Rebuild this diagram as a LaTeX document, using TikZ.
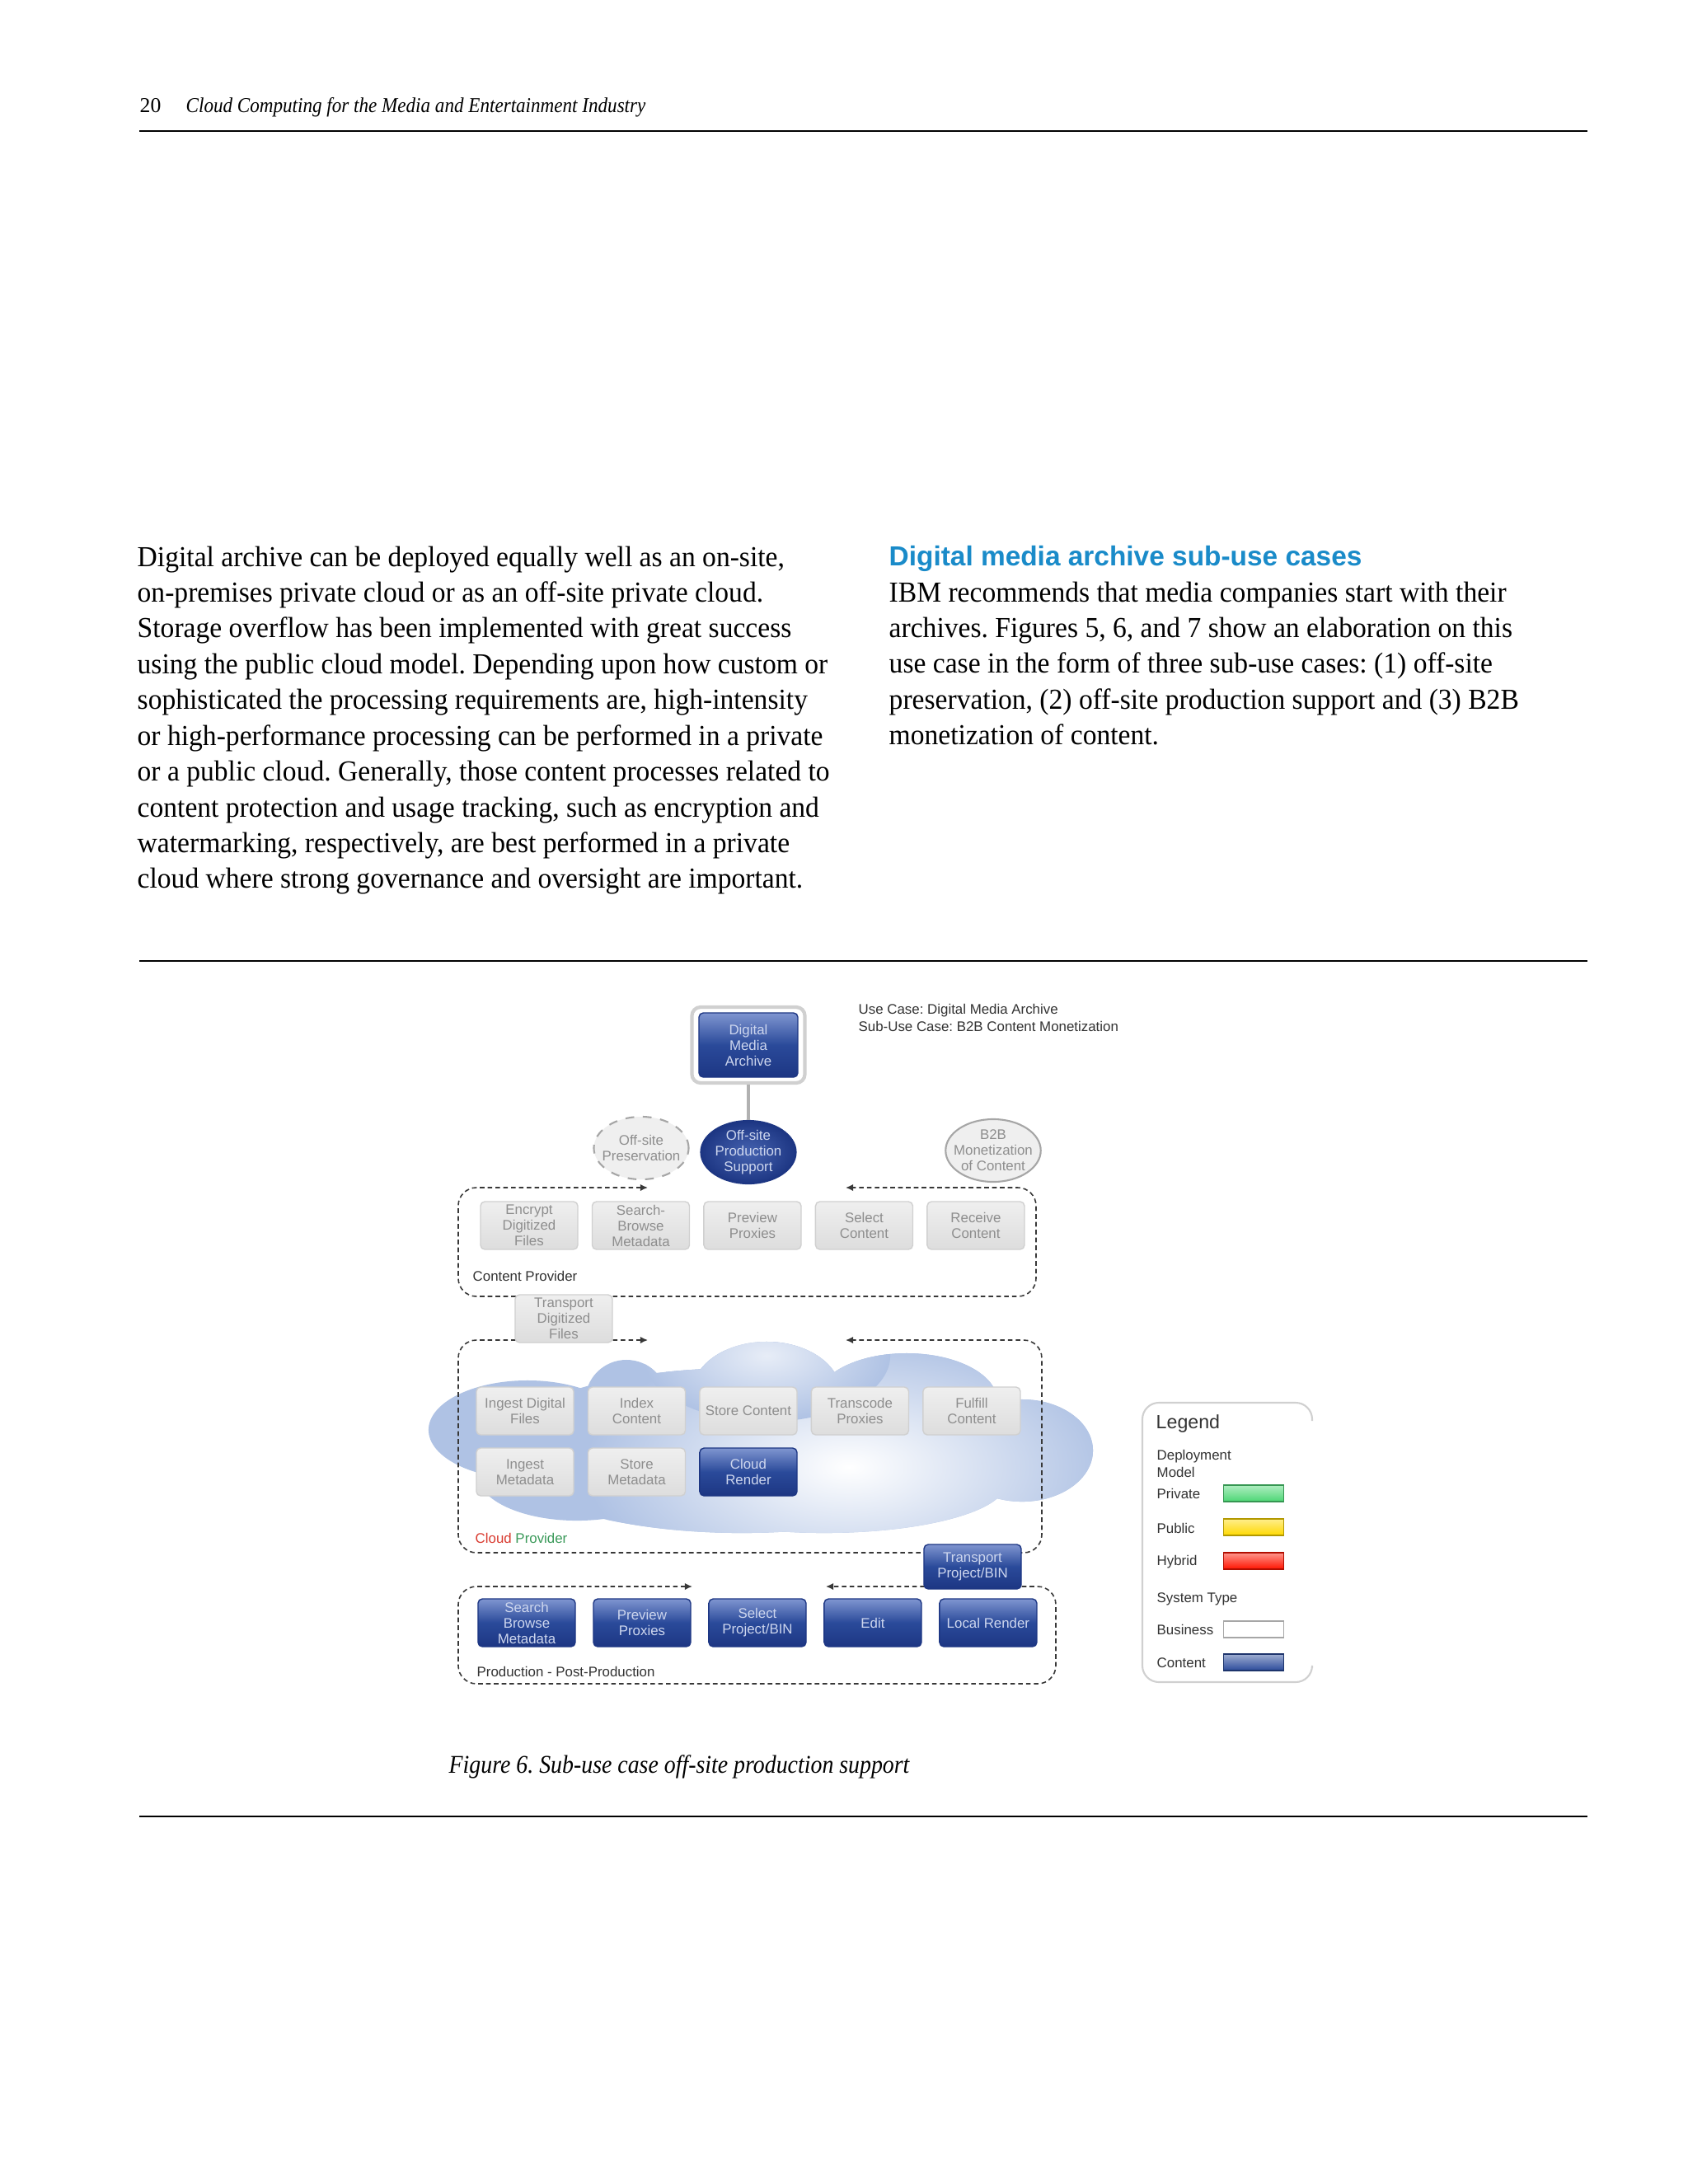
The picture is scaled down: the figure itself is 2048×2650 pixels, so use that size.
\documentclass[tikz,border=0pt]{standalone}
\usepackage{fontspec}
\setmainfont{Liberation Serif}
\newfontfamily\bodyfont[FakeStretch=0.955]{Liberation Serif}
\newfontfamily\capfont[FakeStretch=0.9]{Liberation Serif}
\newfontfamily\diafont{Liberation Sans}
\usepackage{tikz}
\usetikzlibrary{positioning,arrows.meta,shapes.geometric}
\frenchspacing
\definecolor{dmBlue}{HTML}{2A4A9A}
\definecolor{dmBlueTop}{HTML}{7F95D0}
\definecolor{dmBlueDark}{HTML}{1D3683}
\definecolor{dmBlueMid}{HTML}{4663B0}
\definecolor{dmBlueText}{HTML}{CDD6EE}
\definecolor{dmGrayTop}{HTML}{EFEFEF}
\definecolor{dmGrayBot}{HTML}{DDDDDD}
\definecolor{dmGrayLine}{HTML}{D0D0D0}
\definecolor{dmGrayText}{HTML}{8E8E8E}
\definecolor{dmCloud}{HTML}{AFC2E4}
\definecolor{dmDash}{HTML}{383838}
\definecolor{dmInk}{HTML}{333333}
\definecolor{dmHead}{HTML}{1A8BC9}
\definecolor{dmRed}{HTML}{D93A2F}
\definecolor{dmGreen}{HTML}{3B9A5A}
\tikzset{
  diaText/.style={font={\diafont\fontsize{4.8}{5.7}\selectfont}, text=dmInk, inner sep=0pt},
  procGray/.style={draw=dmGrayLine, top color=dmGrayTop, bottom color=dmGrayBot, rounded corners=1.5pt, minimum width=1.18cm, minimum height=0.58cm, inner sep=1pt, align=center, text=dmGrayText, font={\diafont\fontsize{4.8}{5.4}\selectfont}},
  procBlue/.style={procGray, draw=dmBlueDark, top color=dmBlueTop, bottom color=dmBlueDark, middle color=dmBlue, text=dmBlueText},
  ovalGray/.style={ellipse, draw=dmGrayLine!80!black, fill=dmGrayTop, line width=0.6pt, minimum width=1.15cm, minimum height=0.76cm, inner sep=-2pt, align=center, text=dmGrayText, font={\diafont\fontsize{4.8}{5.4}\selectfont}},
  ovalBlue/.style={ovalGray, draw=dmBlueDark, inner color=dmBlueMid, outer color=dmBlueDark, text=dmBlueText},
  contLine/.style={draw=dmDash, line width=0.45pt, dash pattern=on 1.6pt off 1.1pt, rounded corners=0.22cm},
  tipsIn/.style={arrows={Latex[length=2.6pt,width=2.4pt]-Latex[length=2.6pt,width=2.4pt]}},
  legSwatch/.style={draw=#1!70!black, top color=#1!45, bottom color=#1, minimum width=0.73cm, minimum height=0.2cm, inner sep=0pt},
  bodyText/.style={anchor=north west, inner sep=0pt, align=left, font={\bodyfont\fontsize{10}{12.35}\selectfont}}
}

\begin{document}
\begin{tikzpicture}[x=0.01cm, y=-0.01cm]
  \useasboundingbox (0,0) rectangle (2048,2650);
  \fill[white] (0,0) rectangle (2048,2650);

  % running head
  \node[anchor=base west, inner sep=0pt, font=\fontsize{7.3}{8}\selectfont] (pgNo) at (169,136) {20};
  \node[anchor=base west, inner sep=0pt, font={\capfont\itshape\fontsize{7.3}{8}\selectfont}] (runHead) at (225,136) {Cloud Computing for the Media and Entertainment Industry};
  \draw[line width=0.7pt] (169,159) -- (1926,159);

  % text columns
  \node[bodyText] (leftPar) at (166,662) {Digital archive can be deployed equally well as an on-site,\\
    on-premises private cloud or as an off-site private cloud.\\
    Storage overflow has been implemented with great success\\
    using the public cloud model. Depending upon how custom or\\
    sophisticated the processing requirements are, high-intensity\\
    or high-performance processing can be performed in a private\\
    or a public cloud. Generally, those content processes related to\\
    content protection and usage tracking, such as encryption and\\
    watermarking, respectively, are best performed in a private\\
    cloud where strong governance and oversight are important.};
  \node[anchor=base west, inner sep=0pt, text=dmHead, font={\diafont\bfseries\fontsize{9.5}{11}\selectfont}] (secHead) at (1078,686) {Digital media archive sub-use cases};
  \node[bodyText] (rightPar) at (1078,705) {IBM recommends that media companies start with their\\
    archives. Figures 5, 6, and 7 show an elaboration on this\\
    use case in the form of three sub-use cases: (1) off-site\\
    preservation, (2) off-site production support and (3) B2B\\
    monetization of content.};

  \draw[line width=0.55pt] (169,1166) -- (1926,1166);

  % cloud
  \begin{scope}
    \clip (640,1735) ellipse [x radius=1.2cm, y radius=0.6cm]
      (900,1760) ellipse [x radius=3cm, y radius=1cm]
      (760,1700) circle [radius=0.5cm]
      (930,1690) ellipse [x radius=0.9cm, y radius=0.62cm]
      (1100,1700) ellipse [x radius=1.1cm, y radius=0.58cm]
      (1240,1760) ellipse [x radius=0.86cm, y radius=0.62cm]
      (1000,1800) ellipse [x radius=2.2cm, y radius=0.6cm]
      (700,1790) ellipse [x radius=1.2cm, y radius=0.55cm];
    \fill[dmCloud] (500,1600) rectangle (1340,1880);
    \shade[inner color=white, outer color=dmCloud] (1030,1780) ellipse [x radius=3.2cm, y radius=1.6cm];
    \shade[inner color=white!70!dmCloud, outer color=dmCloud] (930,1645) ellipse [x radius=1.5cm, y radius=0.8cm];
  \end{scope}

  % dashed groups
  \coordinate (cpTipL) at (786,1441);
  \coordinate (cpTipR) at (1026,1441);
  \coordinate (clTipL) at (786,1626);
  \coordinate (clTipR) at (1026,1626);
  \coordinate (prTipL) at (840,1925);
  \coordinate (prTipR) at (1002,1925);
  \draw[contLine, tipsIn] (cpTipL) -- (556,1441) -- (556,1573) -- (1257,1573) -- (1257,1441) -- (cpTipR);
  \draw[contLine, tipsIn] (clTipL) -- (556,1626) -- (556,1884) -- (1264,1884) -- (1264,1626) -- (clTipR);
  \draw[contLine, tipsIn] (prTipL) -- (556,1925) -- (556,2043) -- (1281,2043) -- (1281,1925) -- (prTipR);

  % use case
  \node[draw=dmGrayLine, line width=1.2pt, fill=white, rounded corners=3pt, minimum width=1.37cm, minimum height=0.92cm] (dmaFrame) at (908,1268) {};
  \node[procBlue, minimum width=1.2cm, minimum height=0.78cm] (dma) at (908,1268) {Digital\\Media\\Archive};
  \node[ovalBlue] (ops) at (908,1398) {Off-site\\Production\\Support};
  \node[ovalGray, dashed] (osp) at (778,1393) {Off-site\\Preservation};
  \node[ovalGray] (b2b) at (1205,1396) {B2B\\Monetization\\of Content};
  \draw[dmGrayLine!85!black, line width=1pt] (dmaFrame.south) -- (ops.north);
  \node[diaText, anchor=north west, align=left] (useCase) at (1041,1218) {Use Case: Digital Media Archive\\Sub-Use Case: B2B Content Monetization};

  % content provider
  \node[procGray] (cpEnc) at (642,1487) {Encrypt\\Digitized\\Files};
  \node[procGray, right=0.16cm of cpEnc] (cpSrch) {Search-\\Browse\\Metadata};
  \node[procGray, right=0.16cm of cpSrch] (cpPrev) {Preview\\Proxies};
  \node[procGray, right=0.16cm of cpPrev] (cpSel) {Select\\Content};
  \node[procGray, right=0.16cm of cpSel] (cpRecv) {Receive\\Content};
  \node[diaText, anchor=west] (cpLabel) at (573,1548) {Content Provider};
  \node[procGray] (trDig) at (684,1600) {Transport\\Digitized\\Files};

  % cloud provider
  \node[procGray] (clIngF) at (637,1712) {Ingest Digital\\Files};
  \node[procGray, right=0.16cm of clIngF] (clIdx) {Index\\Content};
  \node[procGray, right=0.16cm of clIdx] (clStore) {Store Content};
  \node[procGray, right=0.16cm of clStore] (clTrans) {Transcode\\Proxies};
  \node[procGray, right=0.16cm of clTrans] (clFul) {Fulfill\\Content};
  \node[procGray] (clIngM) at (637,1786) {Ingest\\Metadata};
  \node[procGray, right=0.16cm of clIngM] (clStM) {Store\\Metadata};
  \node[procBlue, right=0.16cm of clStM] (clRend) {Cloud\\Render};
  \node[diaText, anchor=west] (clLabel) at (576,1866) {\textcolor{dmRed}{Cloud} \textcolor{dmGreen}{Provider}};
  \node[procBlue, minimum height=0.54cm] (trProj) at (1180,1901) {Transport\\Project/BIN};

  % production
  \node[procBlue] (prSrch) at (639,1969) {Search\\Browse\\Metadata};
  \node[procBlue, right=0.205cm of prSrch] (prPrev) {Preview\\Proxies};
  \node[procBlue, right=0.205cm of prPrev] (prSel) {Select\\Project/BIN};
  \node[procBlue, right=0.205cm of prSel] (prEdit) {Edit};
  \node[procBlue, right=0.205cm of prEdit] (prLoc) {Local Render};
  \node[diaText, anchor=west] (prLabel) at (578,2028) {Production - Post-Production};

  % legend
  \draw[dmGrayLine, line width=0.6pt, rounded corners=0.2cm] (1592,1724) -- (1592,1702) -- (1386,1702) -- (1386,2041) -- (1592,2041) -- (1592,2024);
  \node[diaText, anchor=west, font={\diafont\fontsize{6.6}{7.5}\selectfont}] (legTitle) at (1402,1727) {Legend};
  \node[diaText, anchor=north west, align=left] (legDep) at (1403,1759) {Deployment\\Model};
  \node[diaText, anchor=west] (legPriv) at (1403,1812) {Private};
  \node[diaText, anchor=west] (legPub) at (1403,1854) {Public};
  \node[diaText, anchor=west] (legHyb) at (1403,1895) {Hybrid};
  \node[diaText, anchor=west] (legSys) at (1403,1940) {System Type};
  \node[diaText, anchor=west] (legBus) at (1403,1977) {Business};
  \node[diaText, anchor=west] (legCont) at (1403,2018) {Content};
  \node[legSwatch=green!55!teal!70!white] (swPriv) at (1521,1812) {};
  \node[legSwatch=orange!30!yellow] (swPub) at (1521,1853) {};
  \node[legSwatch=red!85!orange] (swHyb) at (1521,1894) {};
  \node[draw=dmGrayLine!80!black, fill=white, minimum width=0.73cm, minimum height=0.2cm, inner sep=0pt] (swBus) at (1521,1977) {};
  \node[legSwatch=dmBlue] (swCont) at (1521,2017) {};

  % caption
  \node[anchor=base west, inner sep=0pt, font={\capfont\itshape\fontsize{8.8}{10}\selectfont}] (figCap) at (544,2151) {Figure 6. Sub-use case off-site production support};
  \draw[line width=0.55pt] (169,2204) -- (1926,2204);
\end{tikzpicture}
\end{document}
